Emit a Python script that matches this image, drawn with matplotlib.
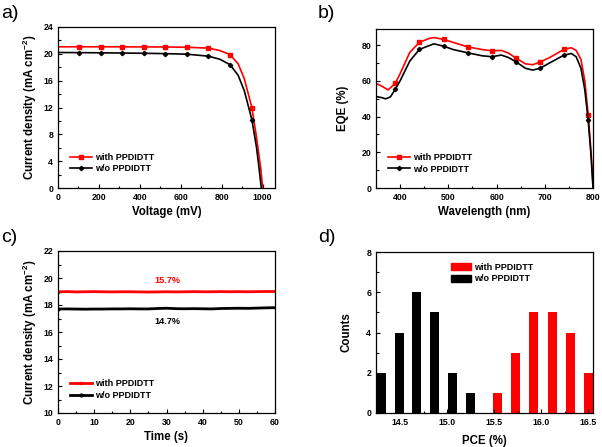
import numpy as np
import matplotlib.pyplot as plt
from matplotlib.ticker import MultipleLocator
from matplotlib.patches import Patch

plt.rcParams['font.family'] = ['Liberation Sans', 'DejaVu Sans']
plt.rcParams['mathtext.fontset'] = 'custom'
plt.rcParams['mathtext.rm'] = 'Liberation Sans:bold'
plt.rcParams['mathtext.bf'] = 'Liberation Sans:bold'

RED = '#ff0000'
BLK = '#000000'

# a) J-V curves
v_with = [0, 105, 210, 315, 420, 525, 630, 735, 790, 840, 880, 910, 947, 970, 990, 1000]
j_with = [21.05, 21.05, 21.05, 21.04, 21.03, 21.02, 20.98, 20.85, 20.5, 19.9, 18.5, 16.3, 12.0, 7.5, 3.0, 0.0]
v_wo = [0, 105, 210, 315, 420, 525, 630, 735, 790, 840, 880, 910, 947, 970, 985, 993]
j_wo = [20.2, 20.18, 20.15, 20.12, 20.08, 20.03, 19.95, 19.65, 19.2, 18.4, 16.8, 14.5, 10.2, 6.0, 2.2, 0.0]
jv_marks = [1, 2, 3, 4, 5, 6, 7, 9, 12]

# b) EQE spectra
wl_with = [350, 362, 375, 390, 400, 420, 440, 460, 470, 490, 510, 540, 570, 590, 610, 625, 640,
           660, 675, 690, 710, 740, 755, 765, 775, 783, 790, 796, 800]
eqe_with = [58.6, 57.0, 54.9, 58.6, 64.0, 75.9, 81.5, 83.7, 84.2, 83.2, 81.5, 79.0, 77.5, 76.8, 77.0,
            75.5, 72.7, 69.5, 69.0, 70.5, 73.0, 77.6, 78.5, 77.0, 72.0, 60.0, 41.0, 20.0, 2.0]
wl_wo = [350, 362, 370, 380, 390, 400, 420, 440, 470, 490, 510, 540, 570, 590, 610, 625, 640,
         660, 675, 690, 710, 740, 755, 765, 775, 783, 790, 796, 800]
eqe_wo = [51.2, 50.6, 49.9, 51.0, 55.3, 60.0, 71.0, 77.6, 80.7, 79.4, 77.5, 75.7, 74.0, 73.5, 74.4,
          73.0, 70.7, 67.0, 66.0, 67.0, 70.0, 74.4, 75.3, 73.5, 67.0, 55.0, 38.0, 18.0, 0.0]
eqe_with_marks = [3, 6, 9, 11, 13, 16, 19, 21, 26]
eqe_wo_marks = [4, 7, 9, 11, 13, 16, 19, 21, 26]

# c) stabilised current density
t_s = [0, 2.5, 5, 7.5, 10, 12.5, 15, 17.5, 20, 22.5, 25, 27.5, 30, 32.5, 35, 37.5, 40, 42.5,
       45, 47.5, 50, 52.5, 55, 57.5, 60]
js_with = [18.98, 18.99, 18.97, 18.98, 18.99, 18.98, 18.97, 18.98, 18.98, 18.97, 18.96, 18.97, 18.98,
           18.97, 18.98, 18.99, 18.98, 18.98, 18.99, 18.98, 18.99, 18.98, 18.99, 19.00, 19.00]
js_wo = [17.70, 17.71, 17.70, 17.69, 17.70, 17.70, 17.71, 17.71, 17.72, 17.71, 17.71, 17.74, 17.76,
         17.73, 17.72, 17.73, 17.72, 17.71, 17.74, 17.75, 17.76, 17.75, 17.77, 17.79, 17.80]

# d) PCE histogram
pce_wo = [14.30, 14.49, 14.68, 14.87, 15.06, 15.25]
cnt_wo = [2, 4, 6, 5, 2, 1]
pce_with = [15.54, 15.73, 15.92, 16.12, 16.31, 16.50]
cnt_with = [1, 3, 5, 5, 4, 2]

lab_with = 'with PPDIDTT'
lab_wo = 'w/o PPDIDTT'

fig = plt.figure(figsize=(6.02, 4.47), dpi=100)
W, H = 602, 447


def box(l, t, r, b):
    return [l / W, 1 - b / H, (r - l) / W, (b - t) / H]


ax_a = fig.add_axes(box(58, 27, 275, 188))
ax_b = fig.add_axes(box(376, 29, 593, 188))
ax_c = fig.add_axes(box(58, 251, 275, 413))
ax_d = fig.add_axes(box(376, 252, 593, 413))

tick_fs = 6.3
lab_fs = 8.3
leg_fs = 6.5

for ax in (ax_a, ax_b, ax_c, ax_d):
    ax.tick_params(which='both', direction='in', top=False, right=False, labelsize=tick_fs, width=0.8)
    ax.tick_params(which='major', length=3)
    ax.tick_params(which='minor', length=1.8)
    for sp in ax.spines.values():
        sp.set_linewidth(0.9)

# panel a
ax_a.plot(v_with, j_with, color=RED, lw=1.2, marker='s', ms=2.5, markevery=jv_marks, label=lab_with)
ax_a.plot(v_wo, j_wo, color=BLK, lw=1.2, marker='D', ms=2.2, markevery=jv_marks, label=lab_wo)
ax_a.set_xlim(0, 1060)
ax_a.set_ylim(0, 24)
ax_a.xaxis.set_major_locator(MultipleLocator(200))
ax_a.xaxis.set_minor_locator(MultipleLocator(100))
ax_a.yaxis.set_major_locator(MultipleLocator(4))
ax_a.yaxis.set_minor_locator(MultipleLocator(2))
ax_a.set_xlabel('Voltage (mV)', fontsize=lab_fs, fontweight='bold', labelpad=3)
ax_a.set_ylabel('Current density (mA cm$^{-2}$)', fontsize=lab_fs, fontweight='bold', labelpad=3)
ax_a.legend(loc='lower left', bbox_to_anchor=(0.02, 0.04), frameon=False, handlelength=2.4,
            handletextpad=0.3, labelspacing=0.3, prop={'size': leg_fs, 'weight': 'bold'})

# panel b
ax_b.plot(wl_with, eqe_with, color=RED, lw=1.2, marker='s', ms=2.5, markevery=eqe_with_marks, label=lab_with)
ax_b.plot(wl_wo, eqe_wo, color=BLK, lw=1.2, marker='D', ms=2.2, markevery=eqe_wo_marks, label=lab_wo)
ax_b.set_xlim(350, 800)
ax_b.set_ylim(0, 89)
ax_b.xaxis.set_major_locator(MultipleLocator(100))
ax_b.xaxis.set_minor_locator(MultipleLocator(50))
ax_b.yaxis.set_major_locator(MultipleLocator(20))
ax_b.yaxis.set_minor_locator(MultipleLocator(10))
ax_b.set_xlabel('Wavelength (nm)', fontsize=lab_fs, fontweight='bold', labelpad=3)
ax_b.set_ylabel('EQE (%)', fontsize=lab_fs, fontweight='bold', labelpad=9)
ax_b.legend(loc='lower left', bbox_to_anchor=(0.02, 0.04), frameon=False, handlelength=2.4,
            handletextpad=0.3, labelspacing=0.3, prop={'size': leg_fs, 'weight': 'bold'})

# panel c
ax_c.plot(t_s, js_with, color=RED, lw=2.0, marker='s', ms=2.0, markevery=[0], label=lab_with)
ax_c.plot(t_s, js_wo, color=BLK, lw=2.0, marker='o', ms=2.0, markevery=[0], label=lab_wo)
ax_c.text(30.3, 19.83, '15.7%', color=RED, fontsize=6.6, fontweight='bold', ha='center', va='center')
ax_c.text(30.3, 16.75, '14.7%', color=BLK, fontsize=6.6, fontweight='bold', ha='center', va='center')
ax_c.set_xlim(0, 60)
ax_c.set_ylim(10, 22)
ax_c.xaxis.set_major_locator(MultipleLocator(10))
ax_c.xaxis.set_minor_locator(MultipleLocator(5))
ax_c.yaxis.set_major_locator(MultipleLocator(2))
ax_c.yaxis.set_minor_locator(MultipleLocator(1))
ax_c.set_xlabel('Time (s)', fontsize=lab_fs, fontweight='bold', labelpad=3)
ax_c.set_ylabel('Current density (mA cm$^{-2}$)', fontsize=lab_fs, fontweight='bold', labelpad=3)
ax_c.legend(loc='lower left', bbox_to_anchor=(0.02, 0.03), frameon=False, handlelength=2.4,
            handletextpad=0.3, labelspacing=0.3, prop={'size': leg_fs, 'weight': 'bold'})

# panel d
ax_d.bar(pce_with, cnt_with, width=0.095, color=RED, label=lab_with)
ax_d.bar(pce_wo, cnt_wo, width=0.095, color=BLK, label=lab_wo)
ax_d.set_xlim(14.245, 16.55)
ax_d.set_ylim(0, 8)
ax_d.xaxis.set_major_locator(MultipleLocator(0.5))
ax_d.xaxis.set_minor_locator(MultipleLocator(0.25))
ax_d.xaxis.set_major_formatter(plt.FormatStrFormatter('%.1f'))
ax_d.yaxis.set_major_locator(MultipleLocator(2))
ax_d.yaxis.set_minor_locator(MultipleLocator(1))
ax_d.set_xlabel('PCE (%)', fontsize=lab_fs, fontweight='bold', labelpad=6)
ax_d.set_ylabel('Counts', fontsize=lab_fs, fontweight='bold', labelpad=10)
handles = [Patch(color=RED, label=lab_with), Patch(color=BLK, label=lab_wo)]
ax_d.legend(handles=handles, loc='upper left', bbox_to_anchor=(0.31, 0.985), frameon=False,
            handlelength=2.2, handleheight=0.85, handletextpad=0.3, labelspacing=0.3,
            prop={'size': leg_fs, 'weight': 'bold'})

for ax in (ax_a, ax_b, ax_c, ax_d):
    for lb in ax.get_xticklabels() + ax.get_yticklabels():
        lb.set_fontweight('bold')

# panel letters
for txt, x, y in [('a)', 1, 14), ('b)', 318, 14), ('c)', 1, 237), ('d)', 318, 237)]:
    fig.text(x / W, 1 - y / H, txt, fontsize=14, ha='left', va='center')

fig.savefig('out.png', dpi=100)
